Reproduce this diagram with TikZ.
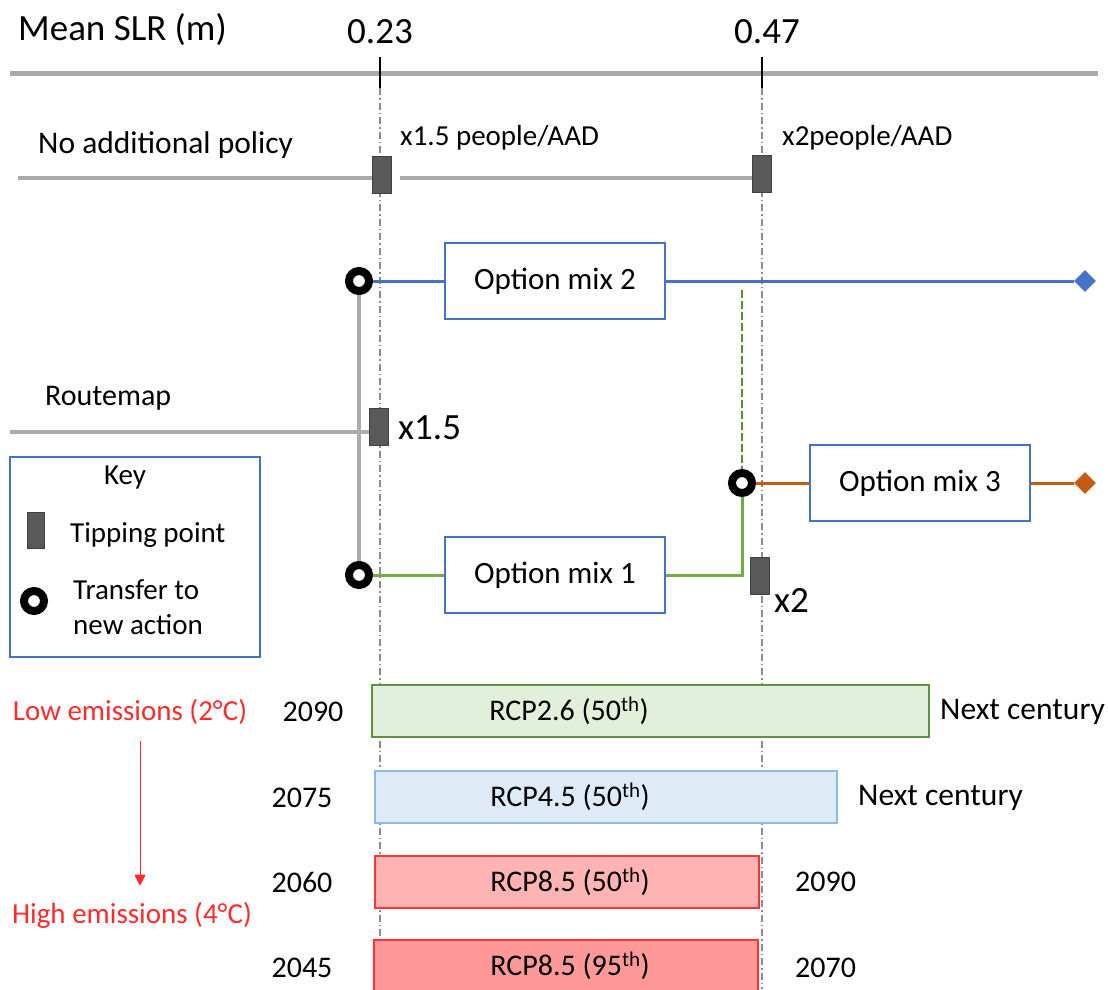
\documentclass[tikz,border=0pt]{standalone}
\usepackage{fontspec}
\setmainfont{Carlito}
\usetikzlibrary{shapes.geometric,arrows.meta}

\definecolor{lineGray}{HTML}{ABABAB}
\definecolor{tipFill}{HTML}{595959}
\definecolor{tipDark}{HTML}{404040}
\definecolor{optBlue}{HTML}{4472C4}
\definecolor{mixGreen}{HTML}{70AD47}
\definecolor{mixOrange}{HTML}{C55A11}
\definecolor{emisRed}{HTML}{FF2B2B}
\definecolor{lowFill}{HTML}{E2EFDA}
\definecolor{lowEdge}{HTML}{5E9440}
\definecolor{midFill}{HTML}{DEEBF7}
\definecolor{midEdge}{HTML}{8DBBE6}
\definecolor{hiFill}{HTML}{FFB3B3}
\definecolor{topFill}{HTML}{FF9999}
\definecolor{hiEdge}{HTML}{FF3333}

\begin{document}
\begin{tikzpicture}[x=1pt,y=-1pt,
  txt/.style={inner sep=0pt,font=\fontsize{30}{35}\selectfont},
  head/.style={inner sep=0pt,font=\fontsize{37}{43}\selectfont},
  big/.style={inner sep=0pt,font=\fontsize{37}{44}\selectfont},
  note/.style={inner sep=0pt,font=\fontsize{29}{35}\selectfont},
  redtxt/.style={inner sep=0pt,text=emisRed,font=\fontsize{29}{34}\selectfont},
  tipping/.style={draw=tipDark,fill=tipFill,line width=0.8pt,minimum width=19pt,minimum height=37pt,inner sep=0pt},
  transfer/.style={circle,draw=black,line width=8pt,fill=white,minimum size=20pt,inner sep=0pt},
  optbox/.style={draw=optBlue,line width=1.5pt,fill=white,minimum width=220pt,minimum height=76pt,inner sep=0pt,font=\fontsize{31}{36}\selectfont},
  bar/.style={line width=1.5pt,anchor=west,minimum height=52pt,inner sep=0pt},
  endpt/.style={diamond,fill=#1,minimum size=22pt,inner sep=0pt},
  grayline/.style={draw=lineGray,line width=4pt},
  slrtick/.style={draw=black,line width=2.5pt},
  guide/.style={draw=black!45,line width=1.3pt,dash pattern=on 7pt off 3pt on 1.5pt off 3pt}]
  \clip (0,0) rectangle (1108,989);

  % sea level axis
  \node[head,anchor=west] (slr) at (18,30) {Mean SLR (m)};
  \node[head] (v23) at (380,32) {0.23};
  \node[head] (v47) at (767,32) {0.47};
  \coordinate (axL) at (10,73);
  \coordinate (axR) at (1098,73);
  \draw[draw=lineGray,line width=5pt] (axL) -- (axR);
  \coordinate (t23) at (380,57);
  \coordinate (t47) at (762,57);
  \draw[slrtick] (t23) -- ++(0,31) coordinate (g23);
  \draw[slrtick] (t47) -- ++(0,31) coordinate (g47);
  \draw[guide] (g23) -- (g23 |- 0,989);
  \draw[guide] (g47) -- (g47 |- 0,989);

  % no additional policy
  \node[txt,anchor=west,font=\fontsize{31.5}{37}\selectfont] (nap) at (38,145) {No additional policy};
  \node[note,anchor=west] (pp15) at (400,138) {x1.5 people/AAD};
  \node[note,anchor=west] (pp2) at (782,138) {x2people/AAD};
  \node[tipping] (tp1) at (382,175) {};
  \node[tipping] (tp2) at (762,174) {};
  \coordinate (napL) at (18,178);
  \draw[grayline] (napL) -- (napL -| tp1.west);
  \draw[grayline] ([xshift=8pt]tp1.east |- napL) -- (napL -| tp2.west);

  % routemap
  \node[txt,anchor=west] (rm) at (45,398) {Routemap};
  \node[tipping] (rt) at (379,427) {};
  \node[big,anchor=west] (rtx) at (398,428) {x1.5};
  \coordinate (rmL) at (10,432);
  \draw[grayline] (rmL) -- (rmL -| rt.west);

  \node[transfer] (c2) at (359,281) {};
  \node[transfer] (c1) at (359,575) {};
  \node[transfer] (c3) at (742,483) {};
  \draw[grayline] (c2) -- (c1);

  % option mixes
  \node[optbox] (om2) at (555,281) {Option mix 2};
  \node[optbox] (om1) at (555,575) {Option mix 1};
  \node[optbox] (om3) at (920,483) {Option mix 3};
  \node[endpt=optBlue] (d2) at (1085,281) {};
  \node[endpt=mixOrange] (d3) at (1085,483) {};
  \draw[optBlue,line width=3pt] (c2) -- (om2.west);
  \draw[optBlue,line width=3pt] (om2.east) -- (d2.west);
  \draw[mixOrange,line width=3pt] (c3) -- (om3.west);
  \draw[mixOrange,line width=3pt] (om3.east) -- (d3.west);
  \coordinate (bend) at (742,575);
  \draw[mixGreen,line width=3pt] (c1) -- (om1.west);
  \draw[mixGreen,line width=3pt] (om1.east) -- (bend) -- (c3);
  \coordinate (gdTop) at (744,290);
  \draw[mixGreen!80!black,line width=2.5pt,dash pattern=on 8pt off 3pt] (c3.north |- gdTop) -- (c3.north);
  \node[tipping] (tp3) at (760,576) {};
  \node[big,anchor=west] (x2) at (774,600) {x2};

  % key
  \node[draw=optBlue,line width=1.5pt,minimum width=250pt,minimum height=200pt,inner sep=0pt] (key) at (135,557) {};
  \node[note] (keyt) at (125,478) {Key};
  \node[tipping,minimum width=17pt,minimum height=36pt] (ktp) at (36,530) {};
  \node[note,anchor=west] (ktpt) at (70,535) {Tipping point};
  \node[transfer] (kc) at (34,601) {};
  \node[note,anchor=west,align=left] (kct) at (73,607) {Transfer to\\new action};

  % emission scenarios
  \node[bar,draw=lowEdge,fill=lowFill,minimum width=557pt] (b26) at (371,711) {};
  \node[bar,draw=midEdge,fill=midFill,minimum width=462pt] (b45) at (374,797) {};
  \node[bar,draw=hiEdge,fill=hiFill,minimum width=384pt] (b85) at (374,882) {};
  \node[bar,draw=hiEdge,fill=topFill,minimum width=384pt] (b95) at (373,966) {};
  \node[txt] (l26) at (569,711) {RCP2.6 (50\textsuperscript{th})};
  \node[txt] (l45) at (570,797) {RCP4.5 (50\textsuperscript{th})};
  \node[txt] (l85) at (570,882) {RCP8.5 (50\textsuperscript{th})};
  \node[txt] (l95) at (570,966) {RCP8.5 (95\textsuperscript{th})};
  \node[txt] (y26) at (313,712) {2090};
  \node[txt] (y45) at (302,798) {2075};
  \node[txt] (y85) at (302,882) {2060};
  \node[txt] (y95) at (302,968) {2045};
  \node[txt,anchor=west,font=\fontsize{31.5}{37}\selectfont] (e26) at (940,712) {Next century};
  \node[txt,anchor=west,font=\fontsize{31.5}{37}\selectfont] (e45) at (858,798) {Next century};
  \node[txt,anchor=west] (e85) at (795,882) {2090};
  \node[txt,anchor=west] (e95) at (795,968) {2070};

  \node[redtxt] (low) at (130,712) {Low emissions (2°C)};
  \node[redtxt] (high) at (132,915) {High emissions (4°C)};
  \draw[emisRed,line width=1pt,-{Triangle[width=11pt,length=11pt]}] ([yshift=-16pt]low.south -| 140,0) -- ([yshift=16pt]high.north -| 140,0);
\end{tikzpicture}
\end{document}
